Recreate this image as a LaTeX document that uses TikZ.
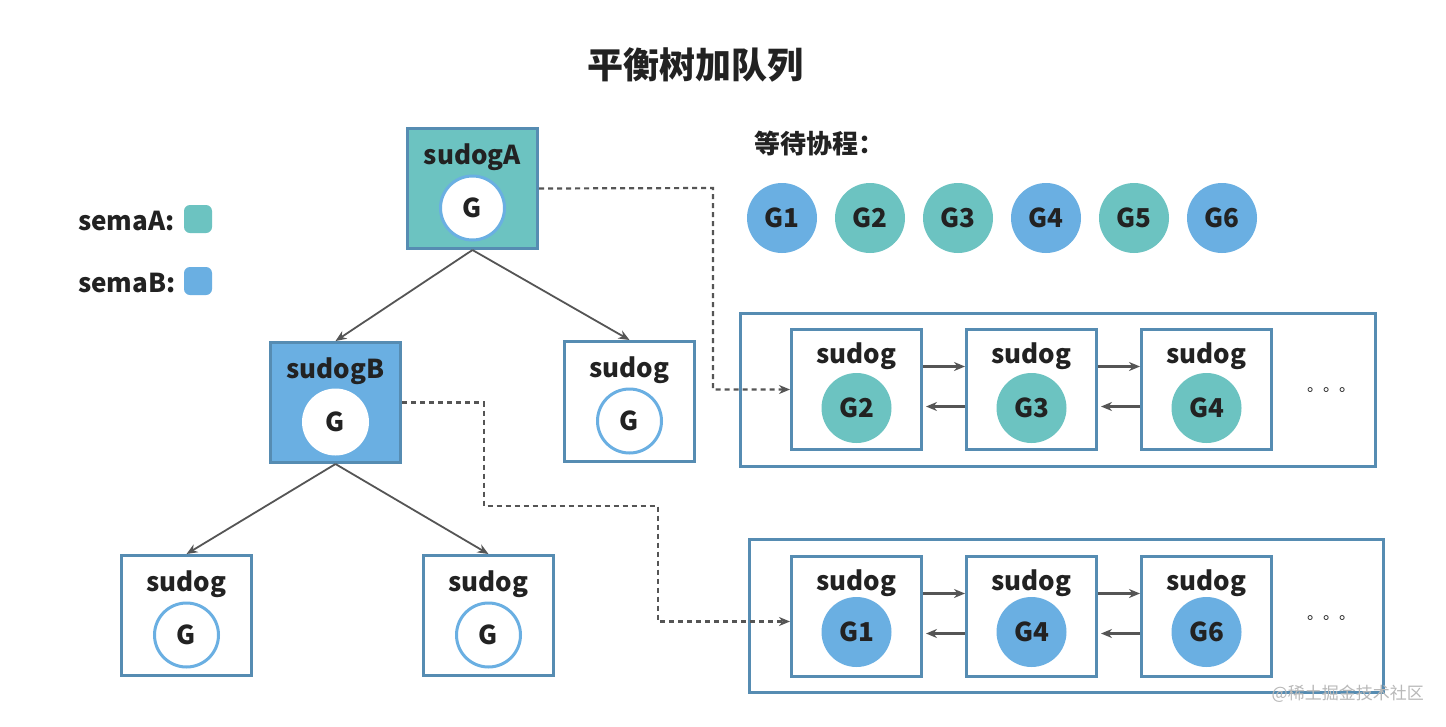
\documentclass[tikz,border=0pt]{standalone}
\usepackage{fontspec}
\setmainfont{Noto Sans CJK SC}
\usetikzlibrary{arrows.meta,calc}
\definecolor{tealc}{RGB}{108,195,193}
\definecolor{bluec}{RGB}{106,175,226}
\definecolor{borderc}{RGB}{86,140,178}
\definecolor{linec}{RGB}{85,85,85}
\definecolor{txtc}{RGB}{34,34,34}
\newcommand{\fs}[1]{\fontsize{#1}{#1}\selectfont}
\tikzset{
  box/.style={draw=borderc, line width=3pt, minimum width=130pt, minimum height=120pt, inner sep=0pt},
  container/.style={draw=borderc, line width=3pt, inner sep=0pt},
  lbl/.style={text=txtc, font=\fs{26}\bfseries, inner sep=0pt},
  gring/.style={circle, draw=bluec, line width=3pt, fill=white, minimum size=64pt, inner sep=0pt, text=txtc, font=\fs{26}\bfseries},
  gfill/.style={circle, fill=#1, minimum size=70pt, inner sep=0pt, text=txtc, font=\fs{26}\bfseries},
  treearrow/.style={draw=linec, line width=1.8pt, -{Stealth[length=11pt,width=9pt]}},
  qarrow/.style={draw=linec, line width=2.2pt, -{Stealth[length=11pt,width=9pt]}},
  dashconn/.style={draw=linec, line width=2.2pt, dash pattern=on 5pt off 4pt, -{Stealth[length=11pt,width=9pt]}},
  legend/.style={rounded corners=6pt, minimum size=28pt, inner sep=0pt},
}
\begin{document}
\begin{tikzpicture}[x=1pt,y=-1pt]
\useasboundingbox[fill=white] (0,0) rectangle (1446,726);

% title
\node[text=txtc, font=\fs{36}\bfseries] (title) at (695,65) {平衡树加队列};

% legend
\node[lbl, anchor=west] (semaA) at (78,221) {semaA:};
\node[legend, fill=tealc] (semaAbox) at (198,219) {};
\node[lbl, anchor=west] (semaB) at (78,283) {semaB:};
\node[legend, fill=bluec] (semaBbox) at (198,281) {};

% tree
\node[box, fill=tealc] (A) at (472.5,188.5) {};
\node[lbl] (At) at ($(A)+(0,-31.5)$) {sudogA};
\node[gring] (Ag) at ($(A)+(0,19.5)$) {G};

\node[box, fill=bluec] (B) at (335.5,402.5) {};
\node[lbl] (Bt) at ($(B)+(0,-31.5)$) {sudogB};
\node[gring, draw=white] (Bg) at ($(B)+(0,19.5)$) {G};

\node[box, fill=white] (C) at (629.5,401.5) {};
\node[lbl] (Ct) at ($(C)+(0,-31.5)$) {sudog};
\node[gring] (Cg) at ($(C)+(0,19.5)$) {G};

\node[box, fill=white] (D) at (186.5,615.5) {};
\node[lbl] (Dt) at ($(D)+(0,-31.5)$) {sudog};
\node[gring] (Dg) at ($(D)+(0,19.5)$) {G};

\node[box, fill=white] (E) at (488.5,615.5) {};
\node[lbl] (Et) at ($(E)+(0,-31.5)$) {sudog};
\node[gring] (Eg) at ($(E)+(0,19.5)$) {G};

\draw[treearrow] (A.south) -- (B.north);
\draw[treearrow] (A.south) -- (C.north);
\draw[treearrow] (B.south) -- (D.north);
\draw[treearrow] (B.south) -- (E.north);

% waiting goroutines
\node[text=txtc, font=\fs{26}\bfseries, anchor=west] (wait) at (751,143) {等待协程：};
\node[gfill=bluec] (W1) at (782,218) {G1};
\node[gfill=tealc] (W2) at (870,218) {G2};
\node[gfill=tealc] (W3) at (958,218) {G3};
\node[gfill=bluec] (W4) at (1046,218) {G4};
\node[gfill=tealc] (W5) at (1134,218) {G5};
\node[gfill=bluec] (W6) at (1222,218) {G6};

% upper queue
\node[container, minimum width=635pt, minimum height=153pt] (Q1) at (1057.5,389.5) {};
\foreach \n/\x/\g in {a/856.5/G2, b/1031.5/G3, c/1206.5/G4}{
  \node[box, fill=white] (Q1\n) at (\x,389.5) {};
  \node[lbl] (Q1\n t) at ($(Q1\n)+(0,-33.5)$) {sudog};
  \node[gfill=tealc] (Q1\n g) at ($(Q1\n)+(0,18.5)$) {\g};
}
\draw[qarrow] ([yshift=23pt]Q1a.east) -- ([yshift=23pt]Q1b.west);
\draw[qarrow] ([yshift=-17pt]Q1b.west) -- ([yshift=-17pt,xshift=3pt]Q1a.east);
\draw[qarrow] ([yshift=23pt]Q1b.east) -- ([yshift=23pt]Q1c.west);
\draw[qarrow] ([yshift=-17pt]Q1c.west) -- ([yshift=-17pt,xshift=3pt]Q1b.east);
\node[text=txtc, font=\fs{16}, inner sep=0pt] (Q1dots) at (1331,390) {。。。};

% lower queue
\node[container, minimum width=634pt, minimum height=153pt] (Q2) at (1066,615.5) {};
\foreach \n/\x/\g in {a/856.5/G1, b/1031.5/G4, c/1206.5/G6}{
  \node[box, fill=white] (Q2\n) at (\x,616.5) {};
  \node[lbl] (Q2\n t) at ($(Q2\n)+(0,-33.5)$) {sudog};
  \node[gfill=bluec] (Q2\n g) at ($(Q2\n)+(0,15.5)$) {\g};
}
\draw[qarrow] ([yshift=23pt]Q2a.east) -- ([yshift=23pt]Q2b.west);
\draw[qarrow] ([yshift=-17pt]Q2b.west) -- ([yshift=-17pt,xshift=3pt]Q2a.east);
\draw[qarrow] ([yshift=23pt]Q2b.east) -- ([yshift=23pt]Q2c.west);
\draw[qarrow] ([yshift=-17pt]Q2c.west) -- ([yshift=-17pt,xshift=3pt]Q2b.east);
\node[text=txtc, font=\fs{16}, inner sep=0pt] (Q2dots) at (1331,618) {。。。};

% dashed connectors
\coordinate (k1) at (713,188);
\draw[dashconn] (A.east) -- (k1) |- (Q1a.west);
\coordinate (k2) at (484,506);
\coordinate (k3) at (658,506);
\draw[dashconn] (B.east) -| (k2) -- (k3) |- ([yshift=-5pt]Q2a.west);

% watermark
\node[text=black!28, font=\fs{17}, anchor=east, inner sep=0pt] (wm) at (1424,694) {@稀土掘金技术社区};
\end{tikzpicture}
\end{document}
